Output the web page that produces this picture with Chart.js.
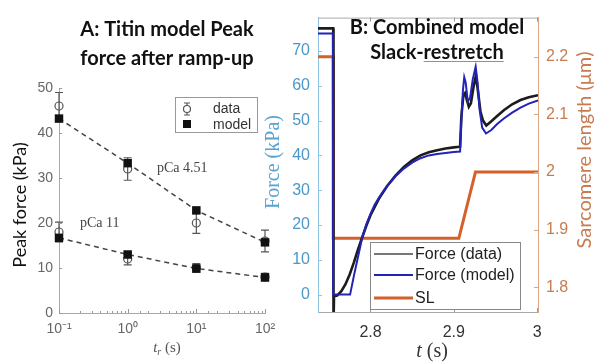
<!DOCTYPE html>
<html>
<head>
<meta charset="utf-8">
<script src="https://cdn.jsdelivr.net/npm/chart.js@4.4.1/dist/chart.umd.min.js"></script>
<style>
  html, body { margin: 0; padding: 0; background: #fff; }
  #wrap { position: relative; width: 596px; height: 363px; overflow: hidden; }
  #panelA { position: absolute; left: 0; top: 0; }
  #panelB { position: absolute; left: 255px; top: 0; }
</style>
</head>
<body>
<div id="wrap">
  <canvas id="panelA" width="290" height="363"></canvas>
  <canvas id="panelB" width="341" height="363"></canvas>
</div>
<script>
// ---- panel A: peak force after ramp-up ----
const rampTimes = [0.1, 1, 10, 100];
const modelHigh = [43.2, 33.3, 22.8, 15.7];   // pCa 4.51
const dataHigh = [46, 32, 20, 16];
const errHigh = [3, 2.5, 2.3, 2.4];
const modelLow = [16.7, 13, 9.9, 7.9];        // pCa 11
const dataLow = [18, 12, 10, 8];
const errLow = [2.2, 1.3, 1, 0.8];
const peakTicks = [0, 10, 20, 30, 40, 50];
const logTickLabels = { '-1': '10⁻¹', '0': '10⁰', '1': '10¹', '2': '10²' };

// ---- panel B: slack-restretch ----
const tData = [2.737, 2.7553, 2.7556, 2.7562, 2.760, 2.765, 2.770, 2.775, 2.780, 2.785, 2.790, 2.795, 2.800,
  2.810, 2.820, 2.830, 2.840, 2.850, 2.860, 2.870, 2.880, 2.890, 2.900, 2.9075, 2.909, 2.9115, 2.9135,
  2.9155, 2.918, 2.9205, 2.9235, 2.9265, 2.9292, 2.932, 2.935, 2.939, 2.945, 2.952, 2.960, 2.970, 2.980, 2.990, 3.001];
const forceData = [76.5, 76.5, -9, -0.5, -0.3, 1, 3, 5.8, 9.2, 13, 16.4, 19.8, 22.8,
  27.5, 31.2, 34.2, 36.7, 38.6, 40, 40.9, 41.5, 42, 42.3, 42.5, 51, 57.5, 58,
  56, 54, 55, 59.5, 63, 58, 52.5, 50, 48.6, 49.8, 51.3, 53, 54.7, 55.9, 56.7, 57.3];
const tModel = [2.737, 2.7548, 2.7552, 2.7755, 2.780, 2.785, 2.790, 2.795, 2.800, 2.805, 2.810, 2.815, 2.820,
  2.830, 2.840, 2.850, 2.860, 2.870, 2.880, 2.890, 2.900, 2.9075, 2.909, 2.911, 2.9125, 2.9142, 2.9168,
  2.9195, 2.9228, 2.9262, 2.9285, 2.931, 2.934, 2.9386, 2.945, 2.952, 2.960, 2.970, 2.980, 2.990, 3.001];
const forceModel = [75, 75, 0, 0, 5.3, 10.8, 16.3, 20.2, 23.2, 25.8, 27.8, 29.6, 31.2,
  34, 36.2, 37.9, 39.2, 40, 40.4, 40.7, 41, 41.1, 50, 59, 62.5, 61, 55.5,
  56.5, 62, 65.5, 61, 53, 48, 46.3, 47.3, 49, 50.6, 52.3, 53.7, 54.9, 55.8];
const tSL = [2.737, 2.7552, 2.7553, 2.906, 2.926, 3.001];
const slLength = [2.2, 2.2, 1.885, 1.885, 2.0, 2.0];
const forceTicks = [0, 10, 20, 30, 40, 50, 60, 70];
const slTicks = [1.8, 1.9, 2.0, 2.1, 2.2];
const timeTicks = [2.8, 2.9, 3];

const BLUE = '#2323b8', ORANGE = '#d4602a', AXBLUE = '#4b97c9', AXORANGE = '#c87b50';

const pts = (xs, ys) => xs.map((x, i) => ({ x: x, y: ys[i] }));
const setTicks = (vals) => (s) => { s.ticks = vals.map(v => ({ value: v })); };
const plainNum = v => String(+Number(v).toFixed(3));

function inwardTicks(ctx, scale, edge, len, color) {
  ctx.save();
  ctx.strokeStyle = color;
  ctx.lineWidth = 1;
  ctx.beginPath();
  scale.ticks.forEach(t => {
    const p = Math.round(scale.getPixelForValue(t.value)) + 0.5;
    const l = typeof len === 'function' ? len(t.value) : len;
    if (edge.dir === 'up' || edge.dir === 'down') {
      const d = edge.dir === 'up' ? -l : l;
      ctx.moveTo(p, edge.at); ctx.lineTo(p, edge.at + d);
    } else {
      const d = edge.dir === 'right' ? l : -l;
      ctx.moveTo(edge.at, p); ctx.lineTo(edge.at + d, p);
    }
  });
  ctx.stroke();
  ctx.restore();
}

// ---------- panel A ----------
const panelAPlugin = {
  id: 'panelA',
  beforeDatasetsDraw(chart) {
    const { ctx, scales: { x, y } } = chart;
    ctx.save();
    ctx.strokeStyle = '#555';
    ctx.lineWidth = 1.2;
    const bars = (vals, errs) => vals.forEach((v, i) => {
      const px = x.getPixelForValue(rampTimes[i]);
      const top = y.getPixelForValue(v + errs[i]);
      const bot = y.getPixelForValue(v - errs[i]);
      ctx.beginPath();
      ctx.moveTo(px, top); ctx.lineTo(px, bot);
      ctx.moveTo(px - 4, top); ctx.lineTo(px + 4, top);
      ctx.moveTo(px - 4, bot); ctx.lineTo(px + 4, bot);
      ctx.stroke();
    });
    bars(dataHigh, errHigh);
    bars(dataLow, errLow);
    ctx.restore();
  },
  afterDraw(chart) {
    const { ctx, chartArea: a, scales: { x, y } } = chart;
    inwardTicks(ctx, x, { dir: 'up', at: a.bottom }, v => {
      const l = Math.log10(v);
      return Math.abs(l - Math.round(l)) < 1e-6 ? 4 : 2;
    }, '#999');
    inwardTicks(ctx, y, { dir: 'right', at: a.left }, 3, '#999');

    ctx.save();
    // title
    ctx.fillStyle = '#111';
    ctx.textAlign = 'center';
    ctx.textBaseline = 'middle';
    ctx.font = 'bold 20px Lato';
    ctx.fillText('A: Titin model Peak', 167, 30);
    ctx.fillText('force after ramp-up', 167, 59);

    // y title
    ctx.save();
    ctx.translate(20, 205);
    ctx.rotate(-Math.PI / 2);
    ctx.font = '18px Lato';
    ctx.fillText('Peak force (kPa)', 0, 0);
    ctx.restore();

    // x title: t_r (s)
    ctx.fillStyle = '#555';
    ctx.textAlign = 'left';
    ctx.font = 'italic 15px "Liberation Serif"';
    const w1 = ctx.measureText('t').width;
    ctx.font = 'italic 10px "Liberation Serif"';
    const w2 = ctx.measureText('r').width;
    ctx.font = '15px "Liberation Serif"';
    const w3 = ctx.measureText(' (s)').width;
    let x0 = 167 - (w1 + w2 + w3) / 2;
    ctx.font = 'italic 15px "Liberation Serif"';
    ctx.fillText('t', x0, 348);
    ctx.font = 'italic 10px "Liberation Serif"';
    ctx.fillText('r', x0 + w1, 352);
    ctx.font = '15px "Liberation Serif"';
    ctx.fillText(' (s)', x0 + w1 + w2, 348);

    // annotations
    ctx.fillStyle = '#444';
    ctx.font = '14px "Liberation Serif"';
    ctx.fillText('pCa 4.51', 157, 168);
    ctx.fillText('pCa 11', 80, 223);

    // legend
    ctx.fillStyle = '#fff';
    ctx.fillRect(175, 97, 82, 35);
    ctx.strokeStyle = '#999';
    ctx.lineWidth = 1;
    ctx.strokeRect(175.5, 97.5, 82, 35);
    ctx.strokeStyle = '#555';
    ctx.lineWidth = 1.2;
    ctx.beginPath();
    ctx.moveTo(187, 103); ctx.lineTo(187, 115);
    ctx.moveTo(184, 103); ctx.lineTo(190, 103);
    ctx.moveTo(184, 115); ctx.lineTo(190, 115);
    ctx.stroke();
    ctx.beginPath();
    ctx.arc(187, 109, 3.5, 0, Math.PI * 2);
    ctx.fillStyle = '#fff';
    ctx.fill();
    ctx.stroke();
    ctx.fillStyle = '#111';
    ctx.fillRect(183, 120, 8, 8);
    ctx.fillStyle = '#333';
    ctx.font = '14px "Liberation Sans"';
    ctx.fillText('data', 213, 109);
    ctx.fillText('model', 213, 125);
    ctx.restore();
  }
};

const modelStyle = {
  showLine: true, borderColor: '#444', borderWidth: 1.5, borderDash: [5, 4],
  pointStyle: 'rect', pointRadius: 6, pointBackgroundColor: '#111', pointBorderColor: '#111',
  pointBorderWidth: 0, clip: false
};
const dataStyle = {
  showLine: false, pointStyle: 'circle', pointRadius: 4, pointBorderWidth: 1.2,
  pointBorderColor: '#555', pointBackgroundColor: 'rgba(255,255,255,0)', clip: false
};

new Chart(document.getElementById('panelA'), {
  type: 'line',
  data: {
    datasets: [
      Object.assign({ label: 'model pCa 4.51', data: pts(rampTimes, modelHigh) }, modelStyle),
      Object.assign({ label: 'model pCa 11', data: pts(rampTimes, modelLow) }, modelStyle),
      Object.assign({ label: 'data pCa 4.51', data: pts(rampTimes, dataHigh) }, dataStyle),
      Object.assign({ label: 'data pCa 11', data: pts(rampTimes, dataLow) }, dataStyle)
    ]
  },
  options: {
    responsive: false,
    animation: false,
    layout: { padding: { left: 0, right: 25, top: 88, bottom: 0 } },
    plugins: { legend: { display: false }, tooltip: { enabled: false } },
    scales: {
      x: {
        type: 'logarithmic', min: 0.1, max: 100,
        afterFit: s => { s.height = 50; },
        grid: { display: false, drawTicks: false },
        border: { color: '#aaa' },
        ticks: {
          autoSkip: false, maxRotation: 0, padding: 8, color: '#666',
          font: { family: 'Liberation Sans', size: 14 },
          callback: v => {
            const l = Math.log10(v);
            return Math.abs(l - Math.round(l)) < 1e-6 ? logTickLabels[Math.round(l)] : '';
          }
        }
      },
      y: {
        min: 0, max: 50,
        afterBuildTicks: setTicks(peakTicks),
        afterFit: s => { s.width = 59; },
        grid: { display: false, drawTicks: false },
        border: { color: '#aaa' },
        ticks: { padding: 6, color: '#666', font: { family: 'Liberation Sans', size: 14 } }
      }
    }
  },
  plugins: [panelAPlugin]
});

// ---------- panel B ----------
const panelBPlugin = {
  id: 'panelB',
  afterDraw(chart) {
    const { ctx, chartArea: a, scales: { x, y, y2 } } = chart;
    ctx.save();
    ctx.strokeStyle = '#aaa';
    ctx.lineWidth = 1;
    ctx.beginPath();
    ctx.moveTo(a.left, a.top + 0.5); ctx.lineTo(a.right, a.top + 0.5);
    ctx.stroke();
    ctx.restore();
    inwardTicks(ctx, x, { dir: 'up', at: a.bottom }, 4, '#999');
    inwardTicks(ctx, x, { dir: 'down', at: a.top }, 4, '#999');
    inwardTicks(ctx, y, { dir: 'right', at: a.left }, 4, '#8ec3e3');
    inwardTicks(ctx, y2, { dir: 'left', at: a.right }, 4, '#d8a585');

    ctx.save();
    ctx.textAlign = 'center';
    ctx.textBaseline = 'middle';
    ctx.fillStyle = '#111';
    ctx.font = 'bold 20px Lato';
    ctx.fillText('B: Combined model', 182, 28);
    ctx.fillText('Slack-restretch', 182, 53);
    // spell-check squiggle under "restretch"
    const wAll = ctx.measureText('Slack-restretch').width;
    const wPre = ctx.measureText('Slack-').width;
    const ux0 = 182 - wAll / 2 + wPre, ux1 = 182 + wAll / 2;
    ctx.strokeStyle = '#e07070';
    ctx.lineWidth = 1;
    ctx.beginPath();
    ctx.moveTo(ux0, 61.5); ctx.lineTo(ux1, 61.5);
    ctx.stroke();

    // axis titles
    ctx.save();
    ctx.translate(19, 162);
    ctx.rotate(-Math.PI / 2);
    ctx.fillStyle = '#5aa3d0';
    ctx.font = '20px "Liberation Serif"';
    ctx.fillText('Force (kPa)', 0, 0);
    ctx.restore();

    ctx.save();
    ctx.translate(330, 150);
    ctx.rotate(-Math.PI / 2);
    ctx.fillStyle = AXORANGE;
    ctx.font = '20px Lato';
    ctx.fillText('Sarcomere length (μm)', 0, 0);
    ctx.restore();

    ctx.fillStyle = '#333';
    ctx.textAlign = 'left';
    ctx.font = 'italic 20px "Liberation Serif"';
    const wt = ctx.measureText('t').width;
    ctx.font = '20px "Liberation Serif"';
    const ws = ctx.measureText(' (s)').width;
    const tx = 177 - (wt + ws) / 2;
    ctx.font = 'italic 20px "Liberation Serif"';
    ctx.fillText('t', tx, 352);
    ctx.font = '20px "Liberation Serif"';
    ctx.fillText(' (s)', tx + wt, 352);

    // legend
    ctx.fillStyle = '#fff';
    ctx.fillRect(115, 242, 150, 67);
    ctx.strokeStyle = '#888';
    ctx.lineWidth = 1;
    ctx.strokeRect(115.5, 242.5, 150, 67);
    const items = [['Force (data)', '#777', 2, 254], ['Force (model)', BLUE, 2, 275], ['SL', ORANGE, 3, 298]];
    ctx.font = '16px "Liberation Sans"';
    items.forEach(([txt, col, w, ly]) => {
      ctx.strokeStyle = col;
      ctx.lineWidth = w;
      ctx.beginPath();
      ctx.moveTo(119, ly); ctx.lineTo(158, ly);
      ctx.stroke();
      ctx.fillStyle = '#222';
      ctx.fillText(txt, 160, ly + 1);
    });
    ctx.restore();
  }
};

new Chart(document.getElementById('panelB'), {
  type: 'line',
  data: {
    datasets: [
      { label: 'Force (model)', data: pts(tModel, forceModel), yAxisID: 'y', borderColor: BLUE,
        borderWidth: 2, pointRadius: 0, tension: 0 },
      { label: 'Force (data)', data: pts(tData, forceData), yAxisID: 'y', borderColor: '#1c1c1c',
        borderWidth: 2.6, pointRadius: 0, tension: 0 },
      { label: 'SL', data: pts(tSL, slLength), yAxisID: 'y2', borderColor: ORANGE,
        borderWidth: 3, pointRadius: 0, tension: 0 }
    ]
  },
  options: {
    responsive: false,
    animation: false,
    layout: { padding: { left: 0, right: 0, top: 13, bottom: 0 } },
    plugins: { legend: { display: false }, tooltip: { enabled: false } },
    scales: {
      x: {
        type: 'linear', min: 2.737, max: 3.001,
        afterBuildTicks: setTicks(timeTicks),
        afterFit: s => { s.height = 51; },
        grid: { display: false, drawTicks: false },
        border: { color: '#aaa' },
        ticks: { padding: 11, color: '#333', font: { family: 'Liberation Sans', size: 16 }, callback: plainNum }
      },
      y: {
        position: 'left', min: -5, max: 79.6,
        afterBuildTicks: setTicks(forceTicks),
        afterFit: s => { s.width = 63; },
        grid: { display: false, drawTicks: false },
        border: { color: '#8ec3e3' },
        ticks: { padding: 8, color: AXBLUE, font: { family: 'Liberation Sans', size: 16 }, callback: plainNum }
      },
      y2: {
        position: 'right', min: 1.757, max: 2.268,
        afterBuildTicks: setTicks(slTicks),
        afterFit: s => { s.width = 58; },
        grid: { display: false, drawTicks: false },
        border: { color: '#d8a585' },
        ticks: { padding: 8, color: AXORANGE, font: { family: 'Liberation Sans', size: 16 }, callback: plainNum }
      }
    }
  },
  plugins: [panelBPlugin]
});
</script>
</body>
</html>
